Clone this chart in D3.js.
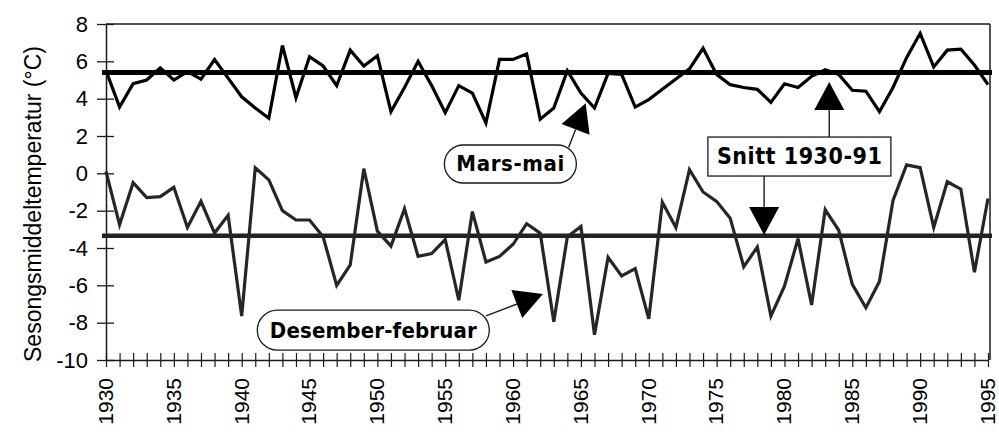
<!DOCTYPE html>
<html>
<head>
<meta charset="utf-8">
<script src="https://cdn.jsdelivr.net/npm/d3@7"></script>
<style>
  body { margin: 0; background: #fff; }
  svg { display: block; font-family: Arial, "Liberation Sans", Helvetica, sans-serif; }
</style>
</head>
<body>
<svg id="chart"></svg>
<script>
// seasonal mean temperatures, 1930-1995
const years = d3.range(1930, 1996)

const springTemp = [5.5, 3.55, 4.8, 5.0, 5.65, 5.0, 5.45, 5.05, 6.1, 5.1,
    4.1, 3.5, 2.95, 6.85, 4.05, 6.25, 5.75, 4.7, 6.6, 5.75,
    6.3, 3.3, 4.6, 6.0, 4.7, 3.25, 4.7, 4.3, 2.7, 6.1,
    6.1, 6.4, 2.9, 3.5, 5.5, 4.3, 3.5, 5.35, 5.3, 3.55,
    3.95, 4.5, 5.05, 5.6, 6.7, 5.3, 4.75, 4.6, 4.5, 3.8,
    4.8, 4.6, 5.2, 5.55, 5.3, 4.45, 4.4, 3.3, 4.6, 6.2,
    7.5, 5.7, 6.6, 6.65, 5.8, 4.75]

const winterTemp = [0.1, -2.75, -0.5, -1.3, -1.25, -0.75, -2.9, -1.5, -3.2, -2.25,
    -7.65, 0.3, -0.35, -2.0, -2.5, -2.5, -3.4, -6.0, -4.9, 0.25,
    -3.1, -3.9, -1.9, -4.45, -4.3, -3.55, -6.8, -2.05, -4.75, -4.45,
    -3.8, -2.7, -3.2, -7.95, -3.4, -2.85, -8.65, -4.5, -5.5, -5.1,
    -7.8, -1.55, -2.9, 0.2, -1.0, -1.5, -2.4, -5.0, -3.95, -7.65,
    -6.05, -3.5, -7.05, -1.95, -3.05, -5.95, -7.2, -5.8, -1.45, 0.45,
    0.3, -2.9, -0.45, -0.85, -5.3, -1.35]

// "Snitt 1930-91"
const springMean = 5.4
const winterMean = -3.35

const yTicks = [-10, -8, -6, -4, -2, 0, 2, 4, 6, 8]
const labelYears = d3.range(1930, 1996, 5)

const yLabel = "Sesongsmiddeltemperatur (°C)"

// labels with their anchor in data units
const notes = [
    {text: "Mars-mai", shape: "pill", year: 1959.8, value: 0.5, w: 132, h: 38, len: 108, size: 22},
    {text: "Snitt 1930-91", shape: "rect", year: 1981.1, value: 0.9, w: 183, h: 39, len: 165, size: 23},
    {text: "Desember-februar", shape: "pill", year: 1949.7, value: -8.4, w: 232, h: 40, len: 207, size: 22}
]

const arrows = [
    {from: [1964.1, 1.4], to: [1965.35, 3.75]},
    {from: [1983.3, 1.95], to: [1983.3, 4.89]},
    {from: [1978.5, -0.14], to: [1978.5, -3.3]},
    {from: [1958.0, -7.64], to: [1962.2, -6.46]}
]

const width = 999, height = 434
const margin = {top: 24, right: 11, bottom: 74, left: 106}

const svg = d3.select("#chart")
    .attr("width", width)
    .attr("height", height)

const x = d3.scaleLinear()
    .domain([1930, 1995])
    .range([margin.left, width - margin.right])

const y = d3.scaleLinear()
    .domain([-10, 8])
    .range([height - margin.bottom, margin.top])

const ink = "#1a1a1a"
const tickFont = "Arial, 'Liberation Sans', sans-serif"

// frame: top and right
svg.append("line")
    .attr("x1", x(1930)).attr("x2", x(1995) + 2)
    .attr("y1", y(8)).attr("y2", y(8))
    .attr("stroke", ink).attr("stroke-width", 1.5)
svg.append("line")
    .attr("x1", x(1995) + 2).attr("x2", x(1995) + 2)
    .attr("y1", y(8)).attr("y2", y(-10))
    .attr("stroke", ink).attr("stroke-width", 1.5)

// Y axis
const yAxis = svg.append("g")
    .attr("transform", `translate(${x(1930)}, 0)`)
    .call(d3.axisLeft(y)
        .tickValues(yTicks)
        .tickFormat(d => String(d))
        .tickSize(9).tickSizeOuter(0).tickPadding(9))
yAxis.select(".domain").attr("stroke", ink).attr("stroke-width", 1.5)
yAxis.selectAll(".tick line").attr("x1", 8).attr("stroke", ink).attr("stroke-width", 1.3)
yAxis.selectAll(".tick text")
    .attr("fill", "#000")
    .style("font-size", "22px")
    .style("font-family", tickFont)

// X axis, one tick a year, label every fifth
const xAxis = svg.append("g")
    .attr("transform", `translate(0, ${y(-10)})`)
    .call(d3.axisBottom(x)
        .tickValues(years)
        .tickSize(7)
        .tickSizeOuter(0)
        .tickFormat(d => labelYears.includes(d) ? String(d) : ""))
xAxis.select(".domain").attr("stroke", ink).attr("stroke-width", 1.5)
xAxis.selectAll(".tick line").attr("y1", -7).attr("stroke", ink).attr("stroke-width", 1.2)
xAxis.selectAll(".tick text")
    .attr("transform", "rotate(-90)")
    .attr("x", -18)
    .attr("y", 0)
    .attr("dy", "0.3em")
    .attr("text-anchor", "end")
    .attr("fill", "#000")
    .style("font-size", "21px")
    .style("font-family", tickFont)

// Y axis label
svg.append("text")
    .attr("transform", `translate(40.5, ${(y(8) + y(-10)) / 2 + 12}) rotate(-90)`)
    .attr("text-anchor", "middle")
    .style("font-size", "23px")
    .text(yLabel)

// mean lines
svg.append("line")
    .attr("x1", x(1930) - 4).attr("x2", x(1995) + 4)
    .attr("y1", y(springMean)).attr("y2", y(springMean))
    .attr("stroke", "#000").attr("stroke-width", 5)
svg.append("line")
    .attr("x1", x(1930) - 4).attr("x2", x(1995) + 4)
    .attr("y1", y(winterMean)).attr("y2", y(winterMean))
    .attr("stroke", "#222").attr("stroke-width", 4.5)

// series
const line = d3.line()
    .x((d, i) => x(years[i]))
    .y(d => y(d))

svg.append("path")
    .datum(springTemp)
    .attr("d", line)
    .attr("fill", "none")
    .attr("stroke", "#000")
    .attr("stroke-width", 3.2)

svg.append("path")
    .datum(winterTemp)
    .attr("d", line)
    .attr("fill", "none")
    .attr("stroke", "#262626")
    .attr("stroke-width", 3.2)

// arrows
const headLen = 28, headW = 30
arrows.forEach(a => {
    const fx = x(a.from[0]), fy = y(a.from[1])
    const tx = x(a.to[0]), ty = y(a.to[1])
    const len = Math.hypot(tx - fx, ty - fy)
    const ux = (tx - fx) / len, uy = (ty - fy) / len
    const bx = tx - ux * headLen, by = ty - uy * headLen
    svg.append("line")
        .attr("x1", fx).attr("y1", fy)
        .attr("x2", bx).attr("y2", by)
        .attr("stroke", ink).attr("stroke-width", 1.4)
    svg.append("path")
        .attr("d", `M${tx},${ty}L${bx - uy * headW / 2},${by + ux * headW / 2}L${bx + uy * headW / 2},${by - ux * headW / 2}Z`)
        .attr("fill", "#000")
})

// label boxes
notes.forEach(n => {
    const cx = x(n.year), cy = y(n.value)
    svg.append("rect")
        .attr("x", cx - n.w / 2).attr("y", cy - n.h / 2)
        .attr("width", n.w).attr("height", n.h)
        .attr("rx", n.shape == "pill" ? n.h / 2 : 0)
        .attr("fill", "#fff")
        .attr("stroke", ink)
        .attr("stroke-width", 1.3)
    svg.append("text")
        .attr("x", cx - n.len / 2)
        .attr("y", cy + n.size * 0.34)
        .attr("textLength", n.len)
        .attr("lengthAdjust", "spacing")
        .style("font-family", "'Liberation Sans Narrow', 'DejaVu Sans Condensed', 'Liberation Sans', sans-serif")
        .style("font-weight", "bold")
        .style("font-size", n.size + "px")
        .text(n.text)
})
</script>
</body>
</html>
